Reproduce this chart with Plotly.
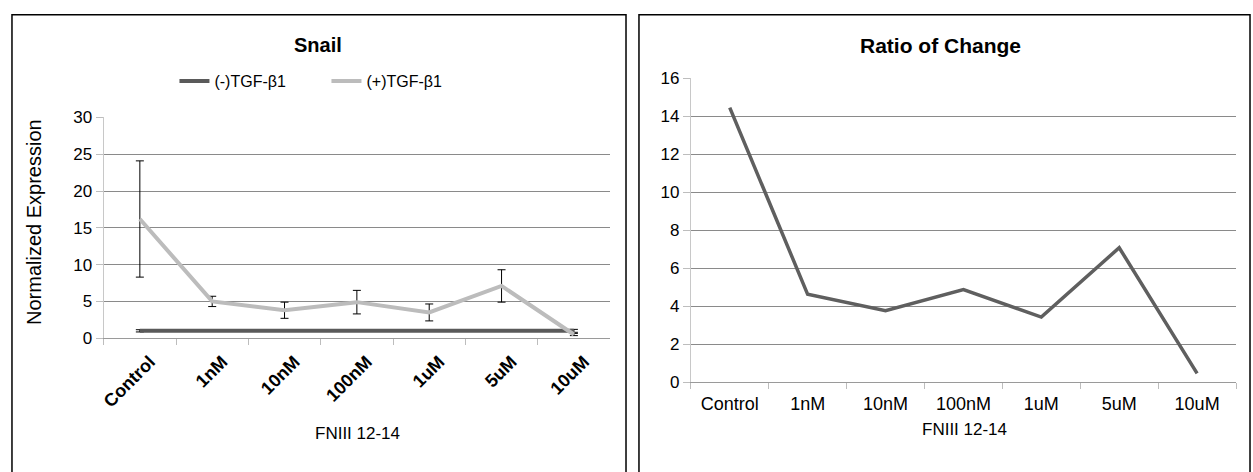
import plotly.graph_objects as go

W, H = 1253, 472

categories = ["Control", "1nM", "10nM", "100nM", "1uM", "5uM", "10uM"]
neg_tgf = [1.0, 1.0, 1.0, 1.0, 1.0, 1.0, 1.0]
neg_err = [0.15, 0.05, 0.05, 0.05, 0.05, 0.05, 0.2]
pos_tgf = [16.2, 5.0, 3.8, 4.9, 3.5, 7.1, 0.5]
pos_err = [7.9, 0.7, 1.1, 1.6, 1.15, 2.2, 0.15]
ratio = [14.45, 4.63, 3.77, 4.88, 3.43, 7.08, 0.47]

left_yticks = [0, 5, 10, 15, 20, 25, 30]
right_yticks = [0, 2, 4, 6, 8, 10, 12, 14, 16]

FONT = "Liberation Sans, Arial, sans-serif"


def px(x):
    return x / W


def py(y):
    return 1 - y / H


fig = go.Figure()

fig.add_trace(go.Scatter(
    x=categories, y=neg_tgf, name="(-)TGF-β1", mode="lines",
    line=dict(color="#5a5a5a", width=4),
    error_y=dict(type="data", array=neg_err, visible=True, color="#000000", thickness=1, width=4),
    xaxis="x", yaxis="y",
))
fig.add_trace(go.Scatter(
    x=categories, y=pos_tgf, name="(+)TGF-β1", mode="lines",
    line=dict(color="#bcbcbc", width=4),
    error_y=dict(type="data", array=pos_err, visible=True, color="#000000", thickness=1, width=4),
    xaxis="x", yaxis="y",
))
fig.add_trace(go.Scatter(
    x=categories, y=ratio, name="Ratio", mode="lines", showlegend=False,
    line=dict(color="#5f5f5f", width=3.5),
    xaxis="x2", yaxis="y2",
))

grid = "#8a8a8a"

fig.update_layout(
    width=W, height=H,
    margin=dict(l=0, r=0, t=0, b=0),
    paper_bgcolor="white", plot_bgcolor="white",
    font=dict(family=FONT, color="#000000", size=16),
    xaxis=dict(
        domain=[px(100), px(608)], anchor="y", type="category",
        range=[-0.5, 6.5], categoryorder="array", categoryarray=categories,
        showline=True, linecolor="#9a9a9a", linewidth=1,
        ticks="outside", tickson="boundaries", ticklen=6, tickcolor="#bdbdbd",
        tickangle=-45, tickfont=dict(family=FONT, size=18, weight="bold"),
        ticklabelshift=10, ticklabelstandoff=5,
        showgrid=False, zeroline=False,
    ),
    yaxis=dict(
        domain=[py(343), py(113)], anchor="x", range=[0, 30],
        tickvals=left_yticks, ticktext=[str(v) for v in left_yticks],
        showline=True, linecolor="#c8c8c8", linewidth=1,
        ticks="outside", ticklen=7, tickcolor="#bdbdbd",
        showgrid=True, gridcolor=grid, gridwidth=1, zeroline=False,
        tickfont=dict(family=FONT, size=17),
    ),
    xaxis2=dict(
        domain=[px(689), px(1236)], anchor="y2", type="category",
        range=[-0.5, 6.5], categoryorder="array", categoryarray=categories,
        showline=True, linecolor="#9a9a9a", linewidth=1,
        ticks="outside", tickson="boundaries", ticklen=6, tickcolor="#bdbdbd",
        tickangle=0, tickfont=dict(family=FONT, size=18),
        ticklabelstandoff=5,
        showgrid=False, zeroline=False,
    ),
    yaxis2=dict(
        domain=[py(389), py(72)], anchor="x2", range=[0, 16],
        tickvals=right_yticks, ticktext=[str(v) for v in right_yticks],
        showline=True, linecolor="#c8c8c8", linewidth=1,
        ticks="outside", ticklen=7, tickcolor="#bdbdbd",
        showgrid=True, gridcolor=grid, gridwidth=1, zeroline=False,
        tickfont=dict(family=FONT, size=17),
    ),
    legend=dict(
        orientation="h", x=px(171), y=py(75), xanchor="left", yanchor="middle",
        font=dict(family=FONT, size=16), itemwidth=30, bgcolor="rgba(0,0,0,0)",
        entrywidth=107,
    ),
    shapes=[
        dict(type="rect", xref="paper", yref="paper", x0=px(8), x1=px(624), y0=-0.05, y1=py(6),
             line=dict(color="#000000", width=1.5), fillcolor="rgba(0,0,0,0)", layer="above"),
        dict(type="rect", xref="paper", yref="paper", x0=px(637), x1=px(1250), y0=-0.05, y1=py(6),
             line=dict(color="#000000", width=1.5), fillcolor="rgba(0,0,0,0)", layer="above"),
    ],
    annotations=[
        dict(text="<b>Snail</b>", x=px(315), y=py(38), xref="paper", yref="paper",
             showarrow=False, xanchor="center", yanchor="middle", font=dict(family=FONT, size=20)),
        dict(text="<b>Ratio of Change</b>", x=px(940), y=py(38), xref="paper", yref="paper",
             showarrow=False, xanchor="center", yanchor="middle", font=dict(family=FONT, size=21)),
        dict(text="Normalized Expression", x=px(30), y=py(222), xref="paper", yref="paper",
             showarrow=False, xanchor="center", yanchor="middle", textangle=-90,
             font=dict(family=FONT, size=20)),
        dict(text="FNIII 12-14", x=px(355), y=py(442), xref="paper", yref="paper",
             showarrow=False, xanchor="center", yanchor="middle", font=dict(family=FONT, size=17)),
        dict(text="FNIII 12-14", x=px(964), y=py(438), xref="paper", yref="paper",
             showarrow=False, xanchor="center", yanchor="middle", font=dict(family=FONT, size=17)),
    ],
)

fig.write_html("out.html")
